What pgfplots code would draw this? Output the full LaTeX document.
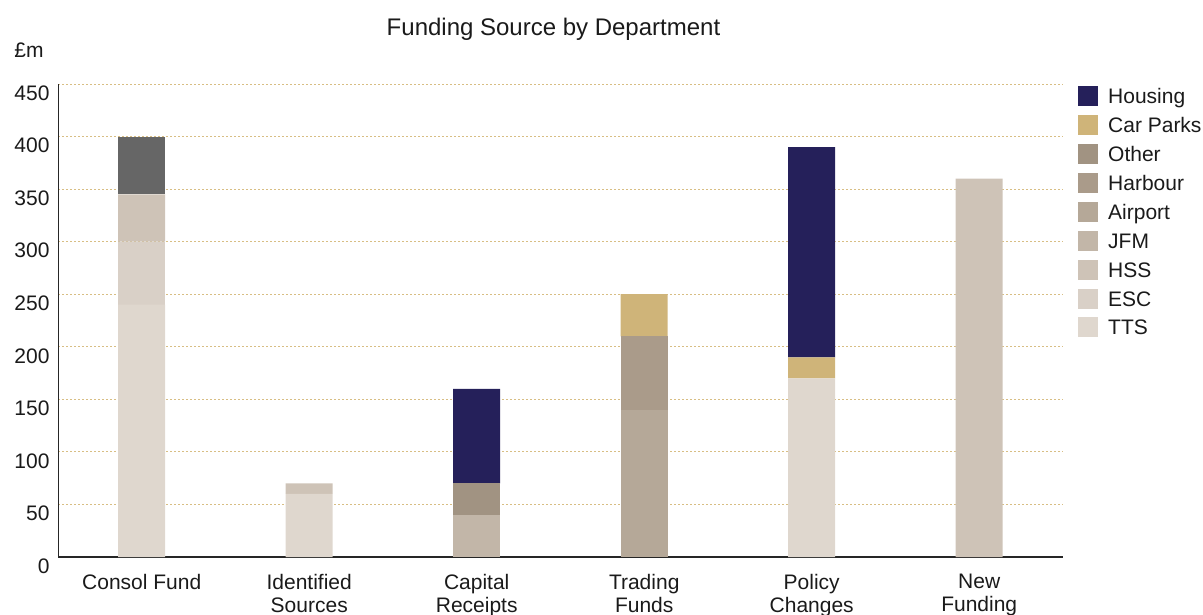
\documentclass[border=0pt]{standalone}
\usepackage{pgfplots}
\pgfplotsset{compat=1.18}
\usepackage{fontspec}
\setmainfont{Liberation Sans}
\definecolor{cHousing}{HTML}{25205A}
\definecolor{cCarParks}{HTML}{CFB479}
\definecolor{cOther}{HTML}{A19382}
\definecolor{cHarbour}{HTML}{AA9B8A}
\definecolor{cAirport}{HTML}{B5A898}
\definecolor{cJFM}{HTML}{C2B6A8}
\definecolor{cHSS}{HTML}{CEC3B7}
\definecolor{cESC}{HTML}{D9D0C7}
\definecolor{cTTS}{HTML}{DFD7CE}
\definecolor{cGrey}{HTML}{666666}
\definecolor{cGrid}{HTML}{D8BE84}
\definecolor{cText}{HTML}{1A1A1A}
\begin{document}
\begin{tikzpicture}
\path[use as bounding box] (-58bp,-58bp) rectangle (1145bp,557bp);
\begin{axis}[
  at={(0,0)}, anchor=south west,
  scale only axis, width=1005bp, height=473bp,
  ybar stacked, bar width=47bp,
  xmin=-0.5, xmax=5.5, ymin=0, ymax=450,
  xtick={0,1,2,3,4,5},
  xticklabels={Consol Fund,{Identified\\Sources},{Capital\\Receipts},{Trading\\Funds},{Policy\\Changes},{New\\Funding}},
  ytick={0,50,...,450},
  /pgf/number format/assume math mode=true,
  axis x line*=bottom, axis y line*=left,
  x axis line style={line width=1.5bp, color=black!85},
  y axis line style={line width=1bp, color=black!85},
  major tick length=0pt,
  ymajorgrids, grid style={cGrid, line width=1bp, dash pattern=on 2bp off 2bp},
  tick label style={font=\fontsize{21bp}{23bp}\selectfont, text=cText},
  yticklabel style={xshift=-5bp, yshift=-9bp},
  xticklabel style={align=center, yshift=-14bp},
  every axis plot/.append style={draw=none},
  legend image code/.code={\fill[#1] (0bp,-8bp) rectangle (20bp,12bp);},
  reverse legend,
  legend style={draw=none, fill=none, at={(1,1)}, anchor=north west, xshift=15bp, yshift=-2bp,
    font=\fontsize{21bp}{23bp}\selectfont, text=cText, inner sep=0pt, row sep=7.4bp, column sep=10bp,
    nodes={inner sep=0pt, text height=15bp, text depth=4bp}},
  legend cell align=left,
]
\addplot[fill=cTTS] coordinates {(0,240) (1,60) (2,0) (3,0) (4,170) (5,0)};
\addlegendentry{TTS}
\addplot[fill=cESC] coordinates {(0,60) (1,0) (2,0) (3,0) (4,0) (5,0)};
\addlegendentry{ESC}
\addplot[fill=cHSS] coordinates {(0,45) (1,10) (2,0) (3,0) (4,0) (5,360)};
\addlegendentry{HSS}
\addplot[fill=cJFM] coordinates {(0,0) (1,0) (2,40) (3,0) (4,0) (5,0)};
\addlegendentry{JFM}
\addplot[fill=cAirport] coordinates {(0,0) (1,0) (2,0) (3,140) (4,0) (5,0)};
\addlegendentry{Airport}
\addplot[fill=cHarbour] coordinates {(0,0) (1,0) (2,0) (3,70) (4,0) (5,0)};
\addlegendentry{Harbour}
\addplot[fill=cOther] coordinates {(0,0) (1,0) (2,30) (3,0) (4,0) (5,0)};
\addlegendentry{Other}
\addplot[fill=cCarParks] coordinates {(0,0) (1,0) (2,0) (3,40) (4,20) (5,0)};
\addlegendentry{Car Parks}
\addplot[fill=cHousing] coordinates {(0,0) (1,0) (2,90) (3,0) (4,200) (5,0)};
\addlegendentry{Housing}
\addplot[fill=cGrey, forget plot] coordinates {(0,55) (1,0) (2,0) (3,0) (4,0) (5,0)};
\end{axis}
\node[anchor=base, font=\fontsize{24bp}{26bp}\selectfont, text=cText] at (495.5bp,521bp) {Funding Source by Department};
\node[anchor=base, font=\fontsize{21bp}{23bp}\selectfont, text=cText] at (-29bp,499.5bp) {£m};
\end{tikzpicture}
\end{document}
